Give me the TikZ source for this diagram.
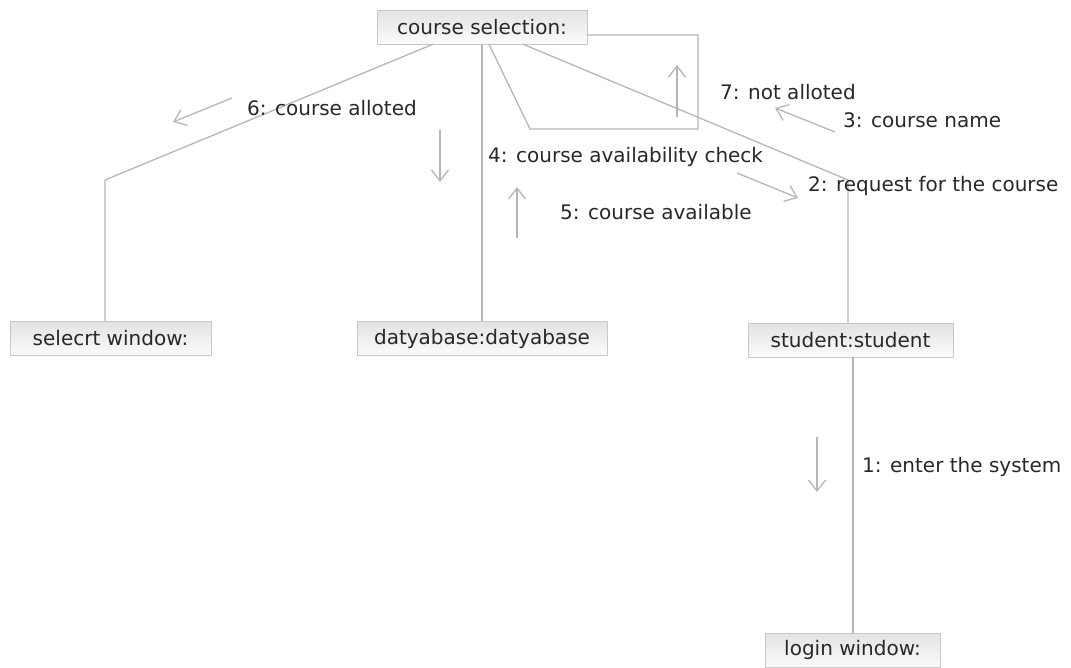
\documentclass[tikz,border=0pt]{standalone}
\usepackage{fontspec}
\setmainfont{DejaVu Sans}
\usetikzlibrary{arrows.meta}
\definecolor{linegray}{RGB}{182,182,182}
\definecolor{boxline}{RGB}{200,200,200}
\definecolor{txt}{RGB}{40,40,40}
\tikzset{
  obj/.style={draw=boxline, top color=gray!22, bottom color=gray!3, minimum height=34pt, inner sep=0pt, text=txt, font=\fontsize{20}{22}\selectfont},
  link/.style={draw=linegray, line width=1.3pt},
  msg/.style={draw=linegray, line width=1.3pt, -{Straight Barb[length=11pt,width=17pt]}},
  lbl/.style={anchor=west, inner sep=0pt, text=txt, font=\fontsize{20}{22}\selectfont}
}
\begin{document}
\begin{tikzpicture}[x=1pt,y=-1pt]
        \useasboundingbox (0,0) rectangle (1071,667);
        % objects
        \node[obj, minimum width=210pt] (course) at (482,27) {course selection:};
        \node[obj, minimum width=201pt] (selwin) at (110.5,338.5) {selecrt window:};
        \node[obj, minimum width=250pt] (db) at (482,338.5) {datyabase:datyabase};
        \node[obj, minimum width=205pt] (student) at (850.5,340) {student:student};
        \node[obj, minimum width=175pt] (login) at (852.5,650) {login window:};
        
        % bends
        \coordinate (a1) at (433,44);
        \coordinate (a2) at (105,180);
        \coordinate (b1) at (523,44);
        \coordinate (b2) at (848,180);
        \coordinate (s1) at (489,44);
        \coordinate (s2) at (530,129);
        \coordinate (s3) at (698,129);
        \coordinate (s4) at (698,35);
        
        \draw[link] (course.south -| a1) -- (a2) -- (selwin.north -| a2);
        \draw[link] (course.south) -- (db.north -| course.south);
        \draw[link] (course.south -| b1) -- (b2) -- (student.north -| b2);
        \draw[link] (course.south -| s1) -- (s2) -- (s3) -- (s4) -- (course.east |- s4);
        \draw[link] (student.south -| 853,0) -- (login.north -| 853,0);
        
        % messages
        \node[lbl] (m1) at (862,467) {1: enter the system};
        \node[lbl] (m2) at (808,186) {2: request for the course};
        \node[lbl] (m3) at (843,120) {3: course name};
        \node[lbl] (m4) at (488,157) {4: course availability check};
        \node[lbl] (m5) at (560,212) {5: course available};
        \node[lbl] (m6) at (247,108) {6: course alloted};
        \node[lbl] (m7) at (720,92) {7: not alloted};
        
        \draw[msg] (817,437) -- (817,492);
        \draw[msg] (737,173) -- (798,198);
        \draw[msg] (835,132) -- (775,108);
        \draw[msg] (440,130) -- (440,182);
        \draw[msg] (517,238) -- (517,187);
        \draw[msg] (232,98) -- (173,122);
        \draw[msg] (677,117) -- (677,65);
\end{tikzpicture}
\end{document}
